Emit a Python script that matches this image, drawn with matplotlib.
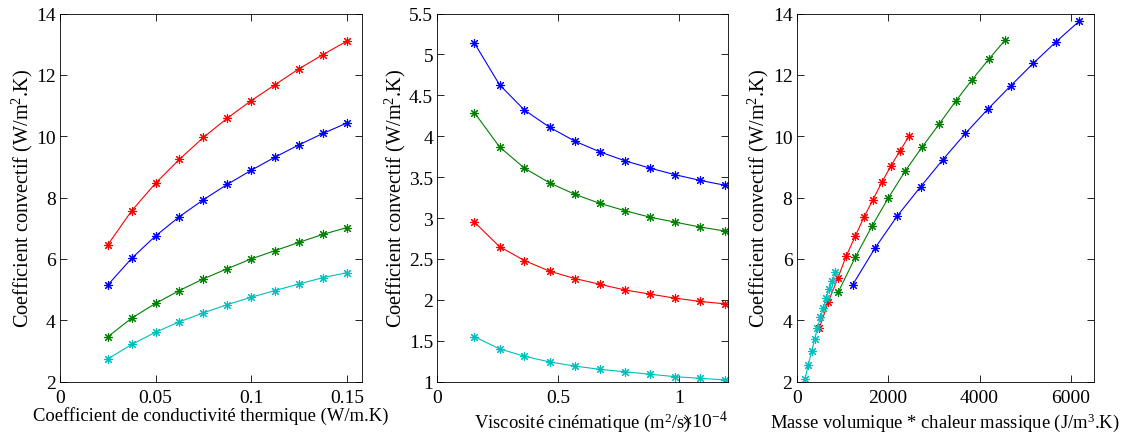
import matplotlib
matplotlib.use('Agg')
import matplotlib.pyplot as plt
from matplotlib.ticker import ScalarFormatter

plt.rcParams['font.family'] = ['Liberation Serif', 'DejaVu Serif']
plt.rcParams['mathtext.fontset'] = 'custom'
plt.rcParams['mathtext.rm'] = 'Liberation Serif'
plt.rcParams['mathtext.it'] = 'Liberation Serif:italic'
plt.rcParams['font.size'] = 14

# couleurs matlab (ordre des series: bleu, vert, rouge, cyan)
colors = ['#0000ff', '#008000', '#ff0000', '#00bfbf']

# --- panneau 1 : conductivite thermique
k_vals = [0.025, 0.0375, 0.05, 0.0625, 0.075, 0.0875, 0.1, 0.1125, 0.125, 0.1375, 0.15]
h1_blue = [5.15, 6.02, 6.75, 7.38, 7.93, 8.43, 8.89, 9.32, 9.72, 10.09, 10.43]
h1_green = [3.46, 4.07, 4.55, 4.97, 5.35, 5.68, 6.00, 6.27, 6.54, 6.80, 7.02]
h1_red = [6.46, 7.57, 8.47, 9.25, 9.96, 10.59, 11.16, 11.68, 12.20, 12.66, 13.10]
h1_cyan = [2.74, 3.21, 3.61, 3.95, 4.24, 4.51, 4.75, 4.97, 5.18, 5.39, 5.55]

# --- panneau 2 : viscosite cinematique
nu_vals = [0.153e-4, 0.257e-4, 0.360e-4, 0.464e-4, 0.568e-4, 0.671e-4,
           0.775e-4, 0.879e-4, 0.982e-4, 1.086e-4, 1.190e-4]
h2_blue = [5.14, 4.63, 4.32, 4.11, 3.94, 3.81, 3.70, 3.61, 3.53, 3.46, 3.40]
h2_green = [4.29, 3.87, 3.61, 3.43, 3.29, 3.18, 3.09, 3.01, 2.95, 2.89, 2.84]
h2_red = [2.95, 2.65, 2.48, 2.35, 2.26, 2.19, 2.12, 2.07, 2.02, 1.98, 1.95]
h2_cyan = [1.55, 1.40, 1.31, 1.24, 1.19, 1.15, 1.12, 1.09, 1.06, 1.04, 1.02]

# --- panneau 3 : masse volumique * chaleur massique
rc_blue = [1222, 1712, 2195, 2708, 3198, 3688, 4178, 4676, 5174, 5664, 6176]
h3_blue = [5.15, 6.35, 7.39, 8.35, 9.24, 10.09, 10.88, 11.64, 12.38, 13.07, 13.75]
rc_green = [907, 1281, 1647, 2005, 2371, 2744, 3117, 3476, 3834, 4200, 4566]
h3_green = [4.91, 6.05, 7.07, 7.99, 8.86, 9.65, 10.40, 11.14, 11.84, 12.51, 13.15]
rc_red = [498, 695, 900, 1083, 1281, 1471, 1668, 1866, 2056, 2254, 2459]
h3_red = [3.75, 4.61, 5.37, 6.09, 6.74, 7.36, 7.93, 8.51, 9.02, 9.51, 10.01]
rc_cyan = [182, 255, 329, 395, 452, 518, 584, 643, 709, 782, 847]
h3_cyan = [2.09, 2.55, 2.99, 3.39, 3.74, 4.09, 4.40, 4.72, 5.01, 5.28, 5.57]

ylab = 'Coefficient convectif (W/m$^{2}$.K)'
mk = (8, 2, 0)  # asterisque facon matlab


class SciFmt(ScalarFormatter):
    # labels comme matlab : 0, 0.5, 1 avec "x 10^-4" a part
    def _set_format(self):
        self.format = '%g'


fig = plt.figure(figsize=(11.3, 4.35), dpi=100)
ax1 = fig.add_axes([0.0531, 0.1205, 0.2673, 0.846])
ax2 = fig.add_axes([0.3870, 0.1205, 0.2570, 0.846])
ax3 = fig.add_axes([0.7050, 0.1205, 0.2631, 0.846])


def curve(ax, x, y, c):
    ax.plot(x, y, '-', color=c, lw=0.8, marker=mk, ms=6.5, mew=0.8)


for y, c in zip([h1_blue, h1_green, h1_red, h1_cyan], colors):
    curve(ax1, k_vals, y, c)
ax1.set_xlim(0, 0.158)
ax1.set_ylim(2, 14)
ax1.set_xticks([0, 0.05, 0.1, 0.15])
ax1.set_xticklabels(['0', '0.05', '0.1', '0.15'])
ax1.set_yticks(range(2, 15, 2))
ax1.set_xlabel('Coefficient de conductivité thermique (W/m.K)', fontsize=13.4, labelpad=0.5)

for y, c in zip([h2_blue, h2_green, h2_red, h2_cyan], colors):
    curve(ax2, nu_vals, y, c)
ax2.set_xlim(0, 1.2e-4)
ax2.set_ylim(1, 5.5)
ax2.set_xticks([0, 0.5e-4, 1e-4])
fmt = SciFmt(useMathText=True)
fmt.set_powerlimits((-3, 3))
ax2.xaxis.set_major_formatter(fmt)
ax2.xaxis.get_offset_text().set_fontsize(14)
ax2.set_yticks([1, 1.5, 2, 2.5, 3, 3.5, 4, 4.5, 5, 5.5])
ax2.set_yticklabels(['1', '1.5', '2', '2.5', '3', '3.5', '4', '4.5', '5', '5.5'])
ax2.set_xlabel('Viscosité cinématique (m$^{2}$/s)', fontsize=13.4, labelpad=3.5)

for x, y, c in zip([rc_blue, rc_green, rc_red, rc_cyan],
                   [h3_blue, h3_green, h3_red, h3_cyan], colors):
    curve(ax3, x, y, c)
ax3.set_xlim(0, 6500)
ax3.set_ylim(2, 14)
ax3.set_xticks([0, 2000, 4000, 6000])
ax3.set_yticks(range(2, 15, 2))
ax3.set_xlabel('Masse volumique * chaleur massique (J/m$^{3}$.K)', fontsize=13.4, labelpad=3.5)

for ax in (ax1, ax2, ax3):
    ax.set_ylabel(ylab, fontsize=14.6, labelpad=1)
    ax.tick_params(direction='in', top=True, right=True, length=5, width=0.6,
                   labelsize=14)
    ax.tick_params(axis='y', pad=3)
    ax.tick_params(axis='x', pad=5)
    for s in ax.spines.values():
        s.set_linewidth(0.6)

fig.savefig('out.png', dpi=100)
